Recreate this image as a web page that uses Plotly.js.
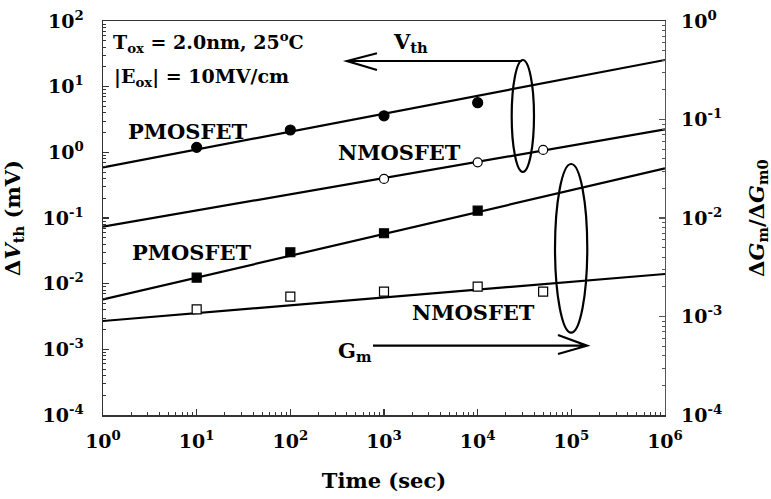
<!DOCTYPE html>
<html>
<head>
<meta charset="utf-8">
<script src="https://cdn.plot.ly/plotly-3.0.1.min.js"></script>
<style>
  html, body { margin: 0; padding: 0; background: #fff; }
  #chart { width: 771px; height: 499px; }
</style>
</head>
<body>
<div id="chart"></div>
<script>
// Stress time (s) of the measured points
const timePMOS = [10, 100, 1000, 10000];
const timeNMOS = [1000, 10000, 50000];
const timeGmP = [10, 100, 1000, 10000];
const timeGmN = [10, 100, 1000, 10000, 50000];

// Threshold-voltage shift (mV), left axis
const dVthPMOS = [1.19, 2.19, 3.6, 5.7];
const dVthNMOS = [0.393, 0.705, 1.09];

// Normalised transconductance degradation, right axis
const dGmPMOS = [0.00248, 0.00449, 0.0070, 0.01186];
const dGmNMOS = [0.00118, 0.00159, 0.00179, 0.00201, 0.00179];

// Power-law fit lines, evaluated at the ends of the time axis
const fitTime = [1, 1e6];
const fitVthPMOS = [0.59, 25.5];
const fitVthNMOS = [0.0738, 2.24];
const fitGmPMOS = [0.00149, 0.0319];
const fitGmNMOS = [0.0009, 0.0027];

// Decade tick labels
const xTickVals = [1, 10, 100, 1e3, 1e4, 1e5, 1e6];
const xTickText = ['10<sup>0</sup>', '10<sup>1</sup>', '10<sup>2</sup>', '10<sup>3</sup>',
                   '10<sup>4</sup>', '10<sup>5</sup>', '10<sup>6</sup>'];
const yTickVals = [1e-4, 1e-3, 1e-2, 1e-1, 1, 10, 100];
const yTickText = ['10<sup>-4</sup>', '10<sup>-3</sup>', '10<sup>-2</sup>', '10<sup>-1</sup>',
                   '10<sup>0</sup>', '10<sup>1</sup>', '10<sup>2</sup>'];
const y2TickVals = [1e-4, 1e-3, 1e-2, 1e-1, 1];
const y2TickText = ['10<sup>-4</sup>', '10<sup>-3</sup>', '10<sup>-2</sup>', '10<sup>-1</sup>',
                    '10<sup>0</sup>'];

// 2..9 subdivisions of each decade for the minor ticks
function subDecades(lo, hi) {
  const v = [];
  for (let e = lo; e < hi; e++) for (let m = 2; m <= 9; m++) v.push(m * Math.pow(10, e));
  return v;
}

const FONT = 'DejaVu Serif';
const INK = '#000';

function fit(x, y, axis) {
  return { x: x, y: y, yaxis: axis, type: 'scatter', mode: 'lines',
           line: { color: INK, width: 2.2 }, hoverinfo: 'skip', showlegend: false };
}
function pts(x, y, axis, symbol, size, fill) {
  return { x: x, y: y, yaxis: axis, type: 'scatter', mode: 'markers', showlegend: false,
           marker: { symbol: symbol, size: size, color: fill, line: { color: INK, width: 1.2 } } };
}

const data = [
  fit(fitTime, fitVthPMOS, 'y'),
  fit(fitTime, fitVthNMOS, 'y'),
  fit(fitTime, fitGmPMOS, 'y2'),
  fit(fitTime, fitGmNMOS, 'y2'),
  pts(timePMOS, dVthPMOS, 'y', 'circle', 10, INK),
  pts(timeNMOS, dVthNMOS, 'y', 'circle', 9, '#fff'),
  pts(timeGmP, dGmPMOS, 'y2', 'square', 9, INK),
  pts(timeGmN, dGmNMOS, 'y2', 'square', 9, '#fff')
];

const tickFont = { family: FONT, size: 19, color: INK, weight: 'bold' };
const titleFont = { family: FONT, size: 21, color: INK, weight: 'bold' };
function minor(vals, color) {
  return { tickmode: 'array', tickvals: vals, ticks: 'inside', ticklen: 3,
           tickcolor: color, tickwidth: 1, showgrid: false };
}

function label(text, x, y, anchor, size) {
  return { text: text, x: x, y: y, xref: 'paper', yref: 'paper', showarrow: false,
           xanchor: anchor || 'center', yanchor: 'middle',
           font: { family: FONT, size: size || 21, color: INK, weight: 'bold' } };
}

const layout = {
  width: 771, height: 499,
  margin: { l: 103, r: 106, t: 21, b: 84 },
  paper_bgcolor: '#fff', plot_bgcolor: '#fff',
  font: { family: FONT, color: INK, weight: 'bold' },
  showlegend: false,
  xaxis: {
    type: 'log', range: [0, 6], tickmode: 'array', tickvals: xTickVals, ticktext: xTickText,
    showgrid: false, zeroline: false,
    showline: true, linecolor: '#333', linewidth: 1.5, mirror: true,
    ticks: 'inside', ticklen: 6, tickcolor: '#333', tickwidth: 1.2,
    minor: minor(subDecades(0, 6), '#333'), tickfont: tickFont, ticklabelstandoff: 9,
    title: { text: 'Time (sec)', font: titleFont, standoff: 22 }
  },
  yaxis: {
    type: 'log', range: [-4, 2], tickmode: 'array', tickvals: yTickVals, ticktext: yTickText,
    showgrid: false, zeroline: false,
    showline: true, linecolor: '#333', linewidth: 1.5,
    ticks: 'inside', ticklen: 6, tickcolor: '#333', tickwidth: 1.2,
    minor: minor(subDecades(-4, 2), '#333'), tickfont: tickFont, ticklabelstandoff: 14,
    title: { text: 'Δ<i>V</i><sub>th</sub> (mV)', font: titleFont, standoff: 18 }
  },
  yaxis2: {
    type: 'log', range: [-4, 0], tickmode: 'array', tickvals: y2TickVals, ticktext: y2TickText,
    overlaying: 'y', side: 'right',
    showgrid: false, zeroline: false,
    showline: true, linecolor: '#555', linewidth: 1.2,
    ticks: 'inside', ticklen: 6, tickcolor: '#555', tickwidth: 1.2,
    minor: minor(subDecades(-4, 0), '#555'), tickfont: tickFont, ticklabelstandoff: 11,
    title: { text: 'Δ<i>G</i><sub>m</sub>/Δ<i>G</i><sub>m0</sub>', font: titleFont, standoff: 30 }
  },
  shapes: [
    // grouping ellipses
    { type: 'circle', xref: 'paper', yref: 'paper', x0: 0.7272, x1: 0.7669, y0: 0.6168, y1: 0.9010,
      line: { color: INK, width: 2.2 } },
    { type: 'circle', xref: 'paper', yref: 'paper', x0: 0.8043, x1: 0.8617, y0: 0.2089, y1: 0.6371,
      line: { color: INK, width: 2.2 } },
    // arrow toward the left (Vth) axis
    { type: 'path', xref: 'paper', yref: 'paper',
      path: 'M 0.7456 0.8985 L 0.4342 0.8985 M 0.4875 0.9180 L 0.4342 0.8985 L 0.4875 0.8756',
      line: { color: INK, width: 2.2 } },
    // arrow toward the right (Gm) axis
    { type: 'path', xref: 'paper', yref: 'paper',
      path: 'M 0.4804 0.1759 L 0.8612 0.1759 M 0.8096 0.2030 L 0.8612 0.1759 L 0.8096 0.1548',
      line: { color: INK, width: 2.2 } }
  ],
  annotations: [
    label('T<sub>ox</sub> = 2.0nm, 25<sup>o</sup>C', 0.014, 0.945, 'left', 19),
    label('|E<sub>ox</sub>| = 10MV/cm', 0.016, 0.857, 'left', 19),
    label('PMOSFET', 0.1495, 0.7208),
    label('NMOSFET', 0.5267, 0.665),
    label('PMOSFET', 0.1566, 0.4137),
    label('NMOSFET', 0.6584, 0.2614),
    label('V<sub>th</sub>', 0.5125, 0.945, 'left'),
    label('G<sub>m</sub>', 0.414, 0.160, 'left')
  ]
};

Plotly.newPlot('chart', data, layout, { displayModeBar: false, staticPlot: true });
</script>
</body>
</html>
